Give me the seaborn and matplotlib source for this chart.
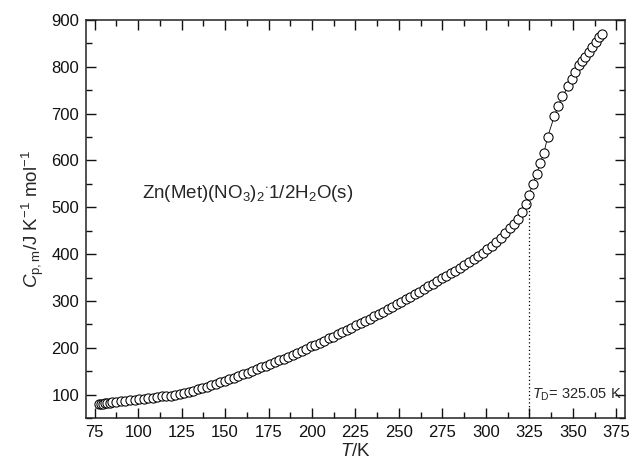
import matplotlib
matplotlib.use("Agg")
import matplotlib.pyplot as plt
import seaborn as sns
import pandas as pd
from matplotlib.ticker import MultipleLocator

# ---- data ----
T_low = [77.5, 78.6, 79.8, 81.0, 82.3, 83.6, 85.0, 87.5, 90.1, 92.7, 95.3, 97.9,
         100.5, 103.1, 105.7, 108.3, 110.9, 113.5, 116.1, 118.7, 121.3, 123.9,
         126.5, 129.1, 131.7, 134.3, 136.9, 139.5, 142.1, 144.7, 147.3, 149.9,
         152.5, 155.1, 157.7, 160.3, 162.9, 165.5, 168.1, 170.7, 173.3, 175.9,
         178.5, 181.1, 183.7, 186.3, 188.9, 191.5, 194.1, 196.7, 199.3]
Cp_low = [79, 80, 81, 81.5, 82, 83, 84, 85, 86, 87, 88, 89,
          90, 91, 92, 93, 94, 96, 97, 98, 100, 101,
          103, 105, 108, 111, 114, 117, 120, 123, 126, 130,
          133, 136, 140, 143, 147, 150, 154, 158, 161, 165,
          169, 173, 177, 181, 185, 189, 194, 198, 203]

T_mid = [201.9, 204.5, 207.1, 209.7, 212.3, 214.9, 217.5, 220.1, 222.7, 225.3,
         227.9, 230.5, 233.1, 235.7, 238.3, 240.9, 243.5, 246.1, 248.7, 251.3,
         253.9, 256.5, 259.1, 261.7, 264.3, 266.9, 269.5, 272.1, 274.7, 277.3,
         279.9, 282.5, 285.1, 287.7, 290.3, 292.9, 295.5, 298.1, 300.7, 303.3,
         305.9, 308.5, 311.1, 313.7, 316.2, 318.6, 320.8, 322.8]
Cp_mid = [207, 211, 215, 220, 224, 229, 233, 238, 243, 248,
          253, 258, 262, 267, 272, 277, 282, 287, 293, 298,
          304, 309, 314, 320, 325, 331, 336, 342, 348, 354,
          359, 365, 371, 377, 384, 390, 396, 403, 410, 418,
          426, 435, 445, 455, 465, 476, 490, 508]

T_high = [324.7, 327.0, 329.3, 331.2, 333.3, 335.6, 339.4, 341.5, 344.0, 347.5,
          349.5, 351.2, 353.3, 355.4, 357.3, 359.2, 361.2, 363.1, 365.0, 367.0]
Cp_high = [526, 550, 572, 595, 615, 651, 695, 716, 737, 759,
           774, 788, 803, 813, 822, 832, 843, 854, 863, 871]

T_D = 325.05
Cp_D_top = 510
x_ticks = [75, 100, 125, 150, 175, 200, 225, 250, 275, 300, 325, 350, 375]
y_ticks = [100, 200, 300, 400, 500, 600, 700, 800, 900]

df = pd.DataFrame({"T": T_low + T_mid + T_high, "Cp": Cp_low + Cp_mid + Cp_high})

sns.set_style("ticks")
plt.rcParams["font.family"] = ["Liberation Sans", "DejaVu Sans"]
plt.rcParams["mathtext.fontset"] = "custom"
plt.rcParams["mathtext.rm"] = "Liberation Sans"
plt.rcParams["mathtext.it"] = "Liberation Sans:italic"
plt.rcParams["mathtext.bf"] = "Liberation Sans:bold"

fig = plt.figure(figsize=(6.3, 4.62), dpi=100)
ax = fig.add_axes([0.1365, 0.0952, 0.8555, 0.8615])

sns.lineplot(data=df, x="T", y="Cp", ax=ax, sort=False, color="black", lw=0.6,
             marker="o", markersize=6.6, markerfacecolor="white",
             markeredgecolor="black", markeredgewidth=0.75)

ax.plot([T_D, T_D], [50, Cp_D_top], ls=(0, (1, 2)), color="black", lw=0.9)

ax.set_xlim(70, 380)
ax.set_ylim(50, 900)
ax.set_xticks(x_ticks)
ax.set_yticks(y_ticks)
ax.xaxis.set_minor_locator(MultipleLocator(12.5))
ax.yaxis.set_minor_locator(MultipleLocator(50))
ax.tick_params(which="both", direction="in", top=True, right=True,
               labelsize=12, colors="#111111", width=1.0)
ax.tick_params(which="major", length=7, pad=5)
ax.tick_params(which="minor", length=4)
for s in ax.spines.values():
    s.set_linewidth(1.1)
    s.set_color("#222222")

ax.set_xlabel("$T$/K", fontsize=13.5, labelpad=2)
ax.set_ylabel(r"$C_{\mathrm{p,m}}$/J K$^{-1}$ mol$^{-1}$", fontsize=13.5, labelpad=4)

ax.text(102.5, 530, r"Zn(Met)(NO$_3$)$_2$$^{\cdot}$1/2H$_2$O(s)", fontsize=13.5,
        ha="left", va="center")
ax.text(326.6, 100, r"$T_{\mathrm{D}}$= 325.05 K", fontsize=10.5, ha="left", va="center")

fig.savefig("out.png", dpi=100)
